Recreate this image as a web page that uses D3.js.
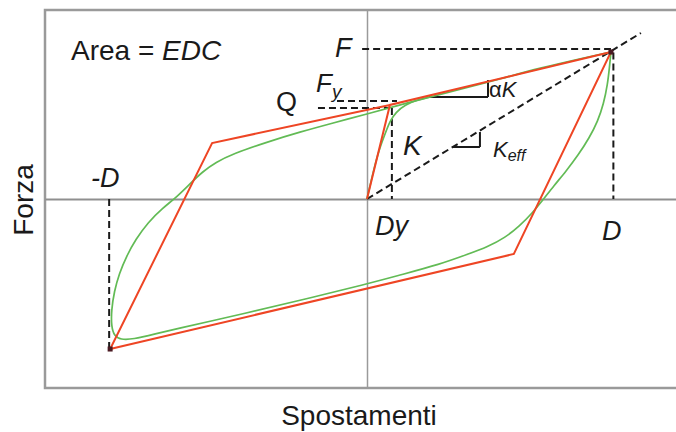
<!DOCTYPE html>
<html><head><meta charset="utf-8">
<script src="https://cdn.jsdelivr.net/npm/d3@7"></script>
<style>
html,body{margin:0;padding:0;background:#fff;}
svg{display:block;font-family:"Liberation Sans",Arial,Helvetica,sans-serif;}
</style></head>
<body>
<script>
// ---- data (displacement units: D = 100, force units: F = 100) ----
const xDomain = [-132, 132];
const yDomain = [-129, 129];

// red bilinear model loop
const bilinearLoop = [[0,0],[9.4,64.2],[100,100.3],[60.2,-37.5],[-105.3,-102.4],[-63.5,38.2],[9.4,64.2]];

// green experimental loop (smooth)
const greenLoop = [
  [100,100.3],[99.4,90],[98.6,78],[97.0,65],[94.6,53],[91.2,42],[86.6,30],[81.6,19],
  [76.6,9],[72.1,-0.7],[67.8,-9.5],[62.5,-18.5],[56.5,-26.5],[49.5,-32.6],[41.5,-37.6],[29.9,-44.6],
  [13.5,-51.9],[0,-58.0],[-27.5,-69.2],[-52.0,-78.8],[-64.3,-83.5],[-76.6,-88.0],[-87.0,-92.2],
  [-96.0,-95.8],[-101.0,-96.0],[-103.6,-93.5],[-104.8,-87.0],[-104.8,-76.0],[-103.6,-63.0],
  [-101.6,-51.0],[-98.6,-39.0],[-94.8,-27.5],[-89.8,-16.0],[-84.0,-6.5],[-77.9,1.5],[-72.5,10.5],
  [-67.5,18.5],[-62.0,25.0],[-55.0,30.8],[-41.0,38.9],[-27.5,45.7],[-13.9,51.9],[0,58.0],
  [13.5,64.2],[25.8,69.6],[42.2,76.5],[54.5,81.9],[70.9,89.4],[88.5,96.2],[100,100.3]
];
// green initial loading curve
const greenInitial = [[0,0],[2.5,18.4],[4.9,33.4],[7.4,44.4],[9.4,53.2],[11.9,59.4],[15.6,64.2],[20.5,67.6],[25.8,69.6]];

// dashed reference lines [x1,y1,x2,y2]
const dashedLines = [
  [-2,102.4,100,102.4],      // F
  [101,100,101,0],           // D
  [0,0,112.3,113.3],         // Keff secant
  [-20.1,62.1,9.4,62.1],     // Q
  [-12.3,66.9,12.3,66.9],    // Fy
  [10.2,62.1,10.2,0],        // Dy
  [-105.7,0,-105.7,-102.4]   // -D
];
// slope triangles [x1,y1,x2,y2]
const slopeMarks = [
  [25.4,69.6,49.6,69.6],[49.6,69.6,49.6,81.2],
  [35.2,35.5,46.3,35.5],[46.3,35.5,46.3,45.7]
];
const peakMarks = [[100,100.3],[-105.3,-102.4]];

// ---- drawing ----
const W = 676, H = 432;
const svg = d3.select("body").append("svg").attr("width", W).attr("height", H);
const x = d3.scaleLinear().domain(xDomain).range([45, 689]);
const y = d3.scaleLinear().domain(yDomain).range([388, 10]);

// frame
svg.append("rect").attr("x", x(xDomain[0])).attr("y", y(yDomain[1]))
  .attr("width", x(xDomain[1]) - x(xDomain[0])).attr("height", y(yDomain[0]) - y(yDomain[1]))
  .attr("fill", "none").attr("stroke", "#9a9a9a").attr("stroke-width", 2.5);

// zero axes via d3 axes without ticks
const gx = svg.append("g").attr("transform", `translate(0,${y(0)})`)
  .call(d3.axisBottom(x).tickValues([]).tickSizeOuter(0));
gx.select(".domain").attr("stroke", "#8f8f8f").attr("stroke-width", 2.2);
const gy = svg.append("g").attr("transform", `translate(${x(0)},0)`)
  .call(d3.axisLeft(y).tickValues([]).tickSizeOuter(0));
gy.select(".domain").attr("stroke", "#9a9a9a").attr("stroke-width", 1.5);

// dashed lines
svg.append("g").selectAll("line").data(dashedLines).join("line")
  .attr("x1", d => x(d[0])).attr("y1", d => y(d[1]))
  .attr("x2", d => x(d[2])).attr("y2", d => y(d[3]))
  .attr("stroke", "#1a1a1a").attr("stroke-width", 2).attr("stroke-dasharray", "7,4");

// slope triangles
svg.append("g").selectAll("line").data(slopeMarks).join("line")
  .attr("x1", d => x(d[0])).attr("y1", d => y(d[1]))
  .attr("x2", d => x(d[2])).attr("y2", d => y(d[3]))
  .attr("stroke", "#1a1a1a").attr("stroke-width", 2);

// green curves
const smooth = d3.line().x(d => x(d[0])).y(d => y(d[1])).curve(d3.curveBasis);
svg.append("path").attr("d", smooth(greenLoop)).attr("fill", "none")
  .attr("stroke", "#62bb55").attr("stroke-width", 1.7);
svg.append("path").attr("d", smooth(greenInitial)).attr("fill", "none")
  .attr("stroke", "#62bb55").attr("stroke-width", 1.7);

// red bilinear
const poly = d3.line().x(d => x(d[0])).y(d => y(d[1]));
svg.append("path").attr("d", poly(bilinearLoop)).attr("fill", "none")
  .attr("stroke", "#ee4524").attr("stroke-width", 2).attr("stroke-linejoin", "miter");

// peak marks
svg.append("g").selectAll("rect").data(peakMarks).join("rect")
  .attr("x", d => x(d[0]) - 2.5).attr("y", d => y(d[1]) - 2.5)
  .attr("width", 5).attr("height", 5).attr("fill", "#4a1a22");

// ---- text ----
function txt(xp, yp, s, size, italic) {
  return svg.append("text").attr("x", xp).attr("y", yp)
    .attr("font-size", size).attr("fill", "#1a1a1a")
    .attr("font-style", italic ? "italic" : "normal").text(s);
}
const area = svg.append("text").attr("x", 71).attr("y", 60).attr("font-size", 28).attr("fill", "#1a1a1a");
area.append("tspan").text("Area = ");
area.append("tspan").attr("font-style", "italic").text("EDC");

txt(335, 57, "F", 27, true);
const fy = svg.append("text").attr("x", 316).attr("y", 92).attr("font-size", 26).attr("fill", "#1a1a1a").attr("font-style", "italic");
fy.append("tspan").text("F");
fy.append("tspan").attr("font-size", 19).attr("dy", 6).text("y");
txt(276, 111, "Q", 27, false);
const ak = svg.append("text").attr("x", 489).attr("y", 97).attr("font-size", 22).attr("fill", "#1a1a1a");
ak.append("tspan").text("α");
ak.append("tspan").attr("font-style", "italic").text("K");
txt(403, 155, "K", 28, true);
const keff = svg.append("text").attr("x", 493).attr("y", 157).attr("font-size", 22).attr("fill", "#1a1a1a").attr("font-style", "italic");
keff.append("tspan").text("K");
keff.append("tspan").attr("font-size", 16).attr("dy", 4).text("eff");
txt(91, 187, "-D", 27, true);
txt(375, 235, "Dy", 27, true);
txt(602, 240, "D", 27, true);

svg.append("text").attr("transform", "translate(33,200) rotate(-90)")
  .attr("text-anchor", "middle").attr("font-size", 28).attr("fill", "#1a1a1a").text("Forza");
svg.append("text").attr("x", 359).attr("y", 425).attr("text-anchor", "middle")
  .attr("font-size", 28).attr("fill", "#1a1a1a").text("Spostamenti");
</script>
</body></html>
